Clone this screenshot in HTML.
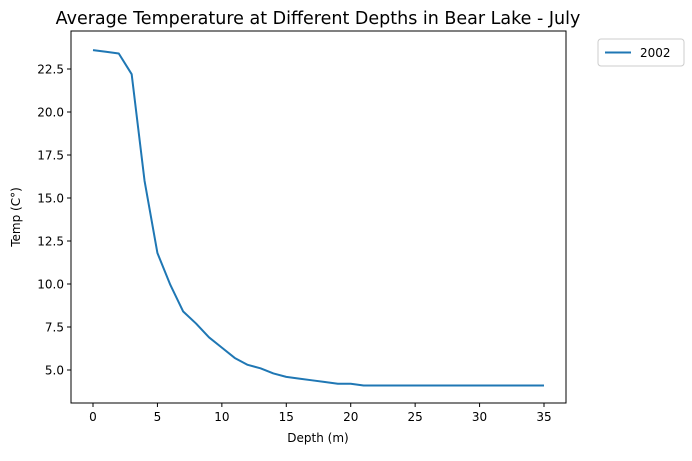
<!DOCTYPE html>
<html><head><meta charset="utf-8"><style>
body{margin:0;background:#fff;font-family:"Liberation Sans","DejaVu Sans",sans-serif}
</style></head><body>
<svg id="chart" width="692" height="456" xmlns="http://www.w3.org/2000/svg" font-family="DejaVu Sans, Liberation Sans, sans-serif">
<rect width="692" height="456" fill="#fff"/>
<text x="318" y="24" font-size="17.5" text-anchor="middle">Average Temperature at Different Depths in Bear Lake - July</text>
<g id="plot"></g>
<text x="318" y="442" font-size="12" text-anchor="middle">Depth (m)</text>
<text transform="translate(20,217) rotate(-90)" font-size="12" text-anchor="middle">Temp (C°)</text>
<g>
<rect x="598" y="39" width="86" height="27" fill="#fff" stroke="#ccc" rx="3"/>
<line x1="605" y1="52.5" x2="631" y2="52.5" stroke="#1f77b4" stroke-width="2"/>
<text x="640" y="57" font-size="12">2002</text>
</g>
</svg>
<script>
const depths=[0,1,2,3,4,5,6,7,8,9,10,11,12,13,14,15,16,17,18,19,20,21,22,23,24,25,26,27,28,29,30,31,32,33,34,35];
const temps=[23.6,23.5,23.4,22.2,16.0,11.8,9.95,8.4,7.7,6.9,6.3,5.7,5.3,5.1,4.8,4.6,4.5,4.4,4.3,4.2,4.2,4.1,4.1,4.1,4.1,4.1,4.1,4.1,4.1,4.1,4.1,4.1,4.1,4.1,4.1,4.1];
const xTicks=[0,5,10,15,20,25,30,35];
const yTicks=[5.0,7.5,10.0,12.5,15.0,17.5,20.0,22.5];
const L=71,R=566,T=31,B=403;
const xs=v=>93+v*(544-93)/35;
const ys=v=>370-(v-5)*(301/17.5);
const NS="http://www.w3.org/2000/svg";
const g=document.getElementById('plot');
function mk(t,a){const e=document.createElementNS(NS,t);for(const k in a)e.setAttribute(k,a[k]);g.appendChild(e);return e;}
const fr=mk('rect',{x:L,y:T,width:R-L,height:B-T,fill:'none',stroke:'#000','stroke-width':1});


xTicks.forEach(v=>{const x=xs(v);
const l=mk('line',{x1:x,y1:B,x2:x,y2:B+4,stroke:'#000'});


const t=mk('text',{x:x,y:B+18,'font-size':12,'text-anchor':'middle'});t.textContent=v;

});
yTicks.forEach(v=>{const y=ys(v);
const l=mk('line',{x1:L-4,y1:y,x2:L,y2:y,stroke:'#000'});


const t=mk('text',{x:L-7,y:y+4.5,'font-size':12,'text-anchor':'end'});t.textContent=v.toFixed(1);

});
const p=mk('polyline',{points:depths.map((d,i)=>xs(d)+','+ys(temps[i])).join(' '),fill:'none',stroke:'#1f77b4','stroke-width':2,'stroke-linejoin':'round'});


</script>
</body></html>
